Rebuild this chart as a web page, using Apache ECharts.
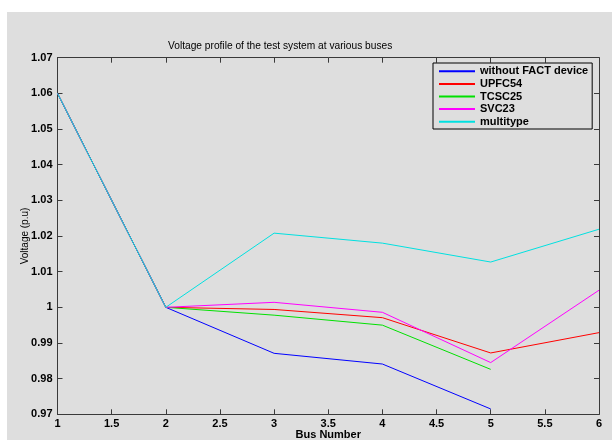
<!DOCTYPE html>
<html><head><meta charset="utf-8">
<script src="https://cdn.jsdelivr.net/npm/echarts@6/dist/echarts.min.js"></script>
<style>html,body{margin:0;padding:0;background:#fff}#c{width:612px;height:440px}</style>
</head><body><div id="c"></div>
<script>
const busNumbers = [1, 2, 3, 4, 5, 6];
const seriesNames = ['without FACT device', 'UPFC54', 'TCSC25', 'SVC23', 'multitype'];
const withoutFACT = [1.06, 1.0, 0.9871, 0.9841, 0.9715];
const upfc54 = [1.06, 1.0, 0.9994, 0.9971, 0.9872, 0.9929];
const tcsc25 = [1.06, 1.0, 0.9978, 0.9950, 0.9826];
const svc23 = [1.06, 1.0, 1.0014, 0.9986, 0.9845, 1.0048];
const multitype = [1.06, 1.0, 1.0208, 1.0180, 1.0127, 1.0219];
const xTicks = [1, 1.5, 2, 2.5, 3, 3.5, 4, 4.5, 5, 5.5, 6];
const yTicks = [0.97, 0.98, 0.99, 1, 1.01, 1.02, 1.03, 1.04, 1.05, 1.06, 1.07];

const colors = ['#0000ff', '#ff0000', '#00e000', '#ff00ff', '#00e0e0'];
const allData = [withoutFACT, upfc54, tcsc25, svc23, multitype];
const font = 'Liberation Sans, Arial, Helvetica, sans-serif';
const gray = '#dedede';
const axisCol = '#3a3a3a';

const chart = echarts.init(document.getElementById('c'), null, {renderer: 'canvas'});
const fmt = v => String(+(+v).toFixed(2));
const baseAxis = {
  type: 'value',
  axisLine: {show: true, lineStyle: {color: axisCol, width: 1}},
  axisTick: {show: true, inside: true, length: 5, lineStyle: {color: axisCol}},
  splitLine: {show: false},
  axisLabel: {show: false}
};
chart.setOption({
  animation: false,
  backgroundColor: '#ffffff',
  graphic: [{type: 'rect', shape: {x: 7, y: 12, width: 612, height: 440}, style: {fill: gray}, z: -10, silent: true}],
  title: {
    text: 'Voltage profile of the test system at various buses',
    left: 168, top: 41, padding: 0,
    textStyle: {fontFamily: font, fontSize: 10.2, fontWeight: 'normal', color: '#000'}
  },
  legend: {
    orient: 'vertical',
    left: 433, top: 63,
    padding: [2, 4, 1, 6],
    itemGap: 0,
    itemWidth: 36, itemHeight: 2,
    icon: 'rect',
    backgroundColor: gray,
    borderColor: '#000', borderWidth: 1,
    data: seriesNames,
    textStyle: {fontFamily: font, fontSize: 11, fontWeight: 'bold', color: '#000', lineHeight: 12.6, padding: [0,0,0,0]}
  },
  grid: {left: 57.5, right: 13, top: 57.7, bottom: 25.7, containLabel: false, outerBoundsMode: 'none'},
  xAxis: [
    Object.assign({}, baseAxis, {
      position: 'bottom', min: 1, max: 6, interval: 0.5,
      axisLabel: {show: true, formatter: fmt, fontFamily: font, fontSize: 11, fontWeight: 'bold', color: '#000', margin: 4},
      name: 'Bus Number', nameLocation: 'middle', nameGap: 15, nameMoveOverlap: false,
      nameTextStyle: {fontFamily: font, fontSize: 11, fontWeight: 'bold', color: '#000'}
    }),
    Object.assign({}, baseAxis, {position: 'top', min: 1, max: 6, interval: 0.5})
  ],
  yAxis: [
    Object.assign({}, baseAxis, {
      position: 'left', min: 0.97, max: 1.07, interval: 0.01,
      axisLabel: {show: true, formatter: fmt, fontFamily: font, fontSize: 11, fontWeight: 'bold', color: '#000', margin: 5},
      name: 'Voltage (p.u)', nameLocation: 'middle', nameGap: 27, nameRotate: 90, nameMoveOverlap: false,
      nameTextStyle: {fontFamily: font, fontSize: 10, fontWeight: 'normal', color: '#000'}
    }),
    Object.assign({}, baseAxis, {position: 'right', min: 0.97, max: 1.07, interval: 0.01})
  ],
  series: seriesNames.map((n, i) => ({
    name: n, type: 'line', symbol: 'none', showSymbol: false,
    xAxisIndex: 0, yAxisIndex: 0,
    color: colors[i],
    lineStyle: {width: 1, color: colors[i]},
    data: allData[i].map((v, j) => [busNumbers[j], v]),
    z: 2 + i
  }))
});
</script></body></html>
